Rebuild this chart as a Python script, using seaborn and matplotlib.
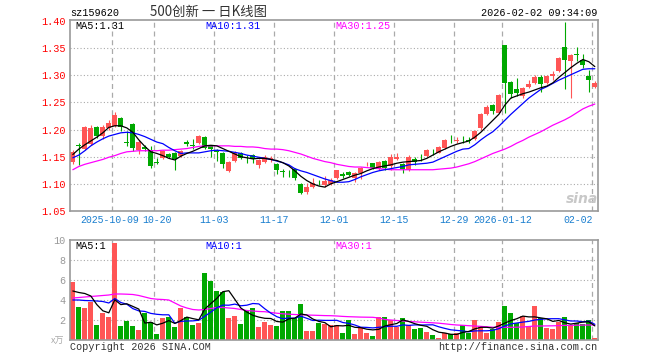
import numpy as np
import pandas as pd
import matplotlib
matplotlib.use("Agg")
import matplotlib.pyplot as plt
import seaborn as sns

# daily candles, 88 trading days ending 2026-02-02
opens = [1.141, 1.171, 1.164, 1.174, 1.205, 1.188, 1.202, 1.207, 1.222, 1.177,
         1.210, 1.162, 1.168, 1.162, 1.140, 1.147, 1.155, 1.157, 1.152, 1.178,
         1.171, 1.175, 1.187, 1.170, 1.163, 1.156, 1.124, 1.142, 1.156, 1.146,
         1.153, 1.135, 1.141, 1.146, 1.136, 1.123, 1.122, 1.128, 1.099, 1.085,
         1.095, 1.102, 1.098, 1.099, 1.111, 1.119, 1.121, 1.110, 1.120, 1.136,
         1.138, 1.127, 1.142, 1.133, 1.146, 1.137, 1.126, 1.146, 1.148, 1.151,
         1.161, 1.157, 1.166, 1.183, 1.179, 1.181, 1.180, 1.182, 1.202, 1.228,
         1.245, 1.231, 1.355, 1.288, 1.274, 1.262, 1.279, 1.286, 1.297, 1.286,
         1.298, 1.308, 1.352, 1.327, 1.339, 1.328, 1.299, 1.279]
highs = [1.163, 1.176, 1.207, 1.208, 1.207, 1.209, 1.217, 1.232, 1.224, 1.198,
         1.212, 1.180, 1.172, 1.170, 1.148, 1.162, 1.157, 1.159, 1.162, 1.181,
         1.183, 1.190, 1.188, 1.172, 1.165, 1.158, 1.143, 1.160, 1.158, 1.154,
         1.155, 1.146, 1.153, 1.152, 1.138, 1.127, 1.126, 1.130, 1.101, 1.102,
         1.110, 1.108, 1.114, 1.110, 1.126, 1.121, 1.123, 1.122, 1.131, 1.140,
         1.139, 1.143, 1.144, 1.155, 1.157, 1.139, 1.153, 1.149, 1.155, 1.165,
         1.164, 1.169, 1.183, 1.190, 1.187, 1.188, 1.186, 1.200, 1.230, 1.245,
         1.248, 1.265, 1.356, 1.290, 1.295, 1.278, 1.292, 1.301, 1.300, 1.301,
         1.308, 1.333, 1.398, 1.339, 1.352, 1.339, 1.309, 1.290]
lows = [1.137, 1.134, 1.162, 1.172, 1.185, 1.182, 1.200, 1.205, 1.198, 1.170,
        1.161, 1.155, 1.160, 1.130, 1.136, 1.145, 1.147, 1.126, 1.150, 1.170,
        1.164, 1.173, 1.164, 1.150, 1.142, 1.129, 1.122, 1.141, 1.146, 1.139,
        1.138, 1.130, 1.139, 1.141, 1.119, 1.112, 1.113, 1.107, 1.081, 1.081,
        1.093, 1.097, 1.094, 1.097, 1.109, 1.110, 1.114, 1.104, 1.109, 1.133,
        1.128, 1.125, 1.125, 1.126, 1.144, 1.120, 1.124, 1.134, 1.143, 1.150,
        1.154, 1.156, 1.164, 1.176, 1.176, 1.176, 1.175, 1.181, 1.200, 1.226,
        1.228, 1.230, 1.230, 1.258, 1.262, 1.259, 1.277, 1.284, 1.270, 1.284,
        1.292, 1.306, 1.274, 1.258, 1.326, 1.314, 1.269, 1.277]
closes = [1.158, 1.169, 1.204, 1.202, 1.188, 1.204, 1.213, 1.227, 1.204, 1.176,
          1.166, 1.178, 1.164, 1.132, 1.139, 1.160, 1.149, 1.145, 1.160, 1.173,
          1.170, 1.189, 1.166, 1.164, 1.158, 1.137, 1.141, 1.157, 1.148, 1.145,
          1.145, 1.144, 1.149, 1.148, 1.125, 1.122, 1.121, 1.110, 1.083, 1.095,
          1.102, 1.101, 1.106, 1.108, 1.125, 1.114, 1.116, 1.120, 1.129, 1.137,
          1.130, 1.141, 1.130, 1.149, 1.150, 1.127, 1.149, 1.141, 1.147, 1.163,
          1.160, 1.167, 1.181, 1.182, 1.180, 1.180, 1.179, 1.198, 1.228, 1.242,
          1.234, 1.263, 1.285, 1.266, 1.268, 1.276, 1.283, 1.297, 1.283, 1.299,
          1.302, 1.332, 1.328, 1.338, 1.338, 1.318, 1.292, 1.286]

ma5 = [1.154, 1.164, 1.172, 1.179, 1.186, 1.194, 1.204, 1.207, 1.207, 1.203,
       1.195, 1.181, 1.169, 1.159, 1.156, 1.152, 1.147, 1.144, 1.151, 1.156,
       1.160, 1.165, 1.170, 1.171, 1.170, 1.165, 1.160, 1.155, 1.150, 1.148,
       1.146, 1.147, 1.147, 1.145, 1.143, 1.139, 1.133, 1.124, 1.114, 1.106,
       1.100, 1.096, 1.094, 1.100, 1.104, 1.108, 1.112, 1.116, 1.119, 1.124,
       1.128, 1.131, 1.133, 1.135, 1.138, 1.140, 1.141, 1.142, 1.143, 1.147,
       1.153, 1.159, 1.164, 1.169, 1.173, 1.176, 1.179, 1.186, 1.195, 1.206,
       1.217, 1.228, 1.245, 1.258, 1.262, 1.266, 1.269, 1.273, 1.277, 1.280,
       1.286, 1.296, 1.305, 1.314, 1.322, 1.329, 1.325, 1.316]
ma10 = [1.148, 1.153, 1.161, 1.170, 1.177, 1.183, 1.188, 1.191, 1.194, 1.195,
        1.194, 1.191, 1.187, 1.182, 1.177, 1.174, 1.167, 1.161, 1.156, 1.157,
        1.157, 1.157, 1.159, 1.161, 1.162, 1.161, 1.160, 1.158, 1.156, 1.153,
        1.151, 1.149, 1.147, 1.145, 1.142, 1.139, 1.135, 1.128, 1.124, 1.121,
        1.117, 1.113, 1.109, 1.106, 1.103, 1.103, 1.104, 1.108, 1.113, 1.117,
        1.121, 1.124, 1.126, 1.128, 1.130, 1.132, 1.135, 1.136, 1.137, 1.138,
        1.140, 1.145, 1.150, 1.155, 1.160, 1.164, 1.165, 1.172, 1.181, 1.189,
        1.196, 1.206, 1.217, 1.228, 1.238, 1.248, 1.258, 1.266, 1.274, 1.279,
        1.285, 1.291, 1.296, 1.301, 1.306, 1.311, 1.312, 1.312]
ma30 = [1.126, 1.132, 1.136, 1.139, 1.142, 1.145, 1.149, 1.152, 1.156, 1.159,
        1.160, 1.161, 1.161, 1.161, 1.161, 1.162, 1.162, 1.163, 1.164, 1.165,
        1.167, 1.169, 1.170, 1.170, 1.170, 1.170, 1.170, 1.169, 1.169, 1.168,
        1.168, 1.167, 1.165, 1.164, 1.164, 1.163, 1.161, 1.158, 1.155, 1.151,
        1.147, 1.144, 1.141, 1.139, 1.136, 1.134, 1.132, 1.131, 1.131, 1.130,
        1.129, 1.128, 1.127, 1.126, 1.126, 1.126, 1.126, 1.126, 1.126, 1.126,
        1.126, 1.127, 1.128, 1.129, 1.131, 1.134, 1.137, 1.141, 1.146, 1.151,
        1.156, 1.160, 1.164, 1.169, 1.175, 1.180, 1.186, 1.191, 1.196, 1.202,
        1.208, 1.213, 1.218, 1.224, 1.231, 1.238, 1.243, 1.247]

# volume, in 万
volumes = [5.83, 3.33, 3.23, 3.83, 1.5, 2.73, 2.33, 9.73, 1.4, 1.93,
           1.4, 1.0, 2.73, 1.83, 0.6, 2.23, 2.33, 1.33, 3.23, 2.33,
           1.5, 1.73, 6.73, 5.93, 4.93, 4.83, 2.23, 2.43, 1.6, 2.93,
           3.17, 1.33, 1.83, 1.5, 1.4, 2.9, 2.9, 2.2, 3.6, 0.9,
           0.9, 1.7, 1.6, 1.5, 1.5, 0.73, 2.0, 0.6, 1.33, 0.73,
           0.4, 2.27, 2.27, 2.0, 1.33, 2.17, 1.5, 1.13, 1.23, 0.8,
           0.5, 0.23, 0.73, 0.6, 0.73, 1.5, 0.73, 2.0, 1.4, 0.73,
           1.07, 1.83, 3.4, 2.67, 1.67, 2.4, 1.4, 3.4, 2.17, 1.23,
           1.1, 1.83, 2.27, 1.5, 1.73, 1.6, 2.0, 0.23]
vol_ma5 = [4.9, 4.75, 4.65, 4.4, 3.54, 2.92, 2.72, 4.02, 3.54, 3.62,
           3.36, 3.09, 1.69, 1.78, 1.51, 1.68, 1.94, 1.66, 1.94, 2.29,
           2.14, 2.02, 3.1, 3.64, 4.16, 4.83, 4.93, 4.07, 3.2, 2.8,
           2.47, 2.29, 2.17, 2.15, 1.85, 1.79, 2.11, 2.18, 2.6, 2.5,
           2.1, 1.86, 1.74, 1.32, 1.44, 1.41, 1.47, 1.27, 1.23, 1.08,
           1.01, 1.07, 1.4, 1.53, 1.65, 2.01, 1.85, 1.63, 1.47, 1.37,
           1.03, 0.78, 0.70, 0.57, 0.56, 0.76, 0.86, 1.11, 1.27, 1.27,
           1.19, 1.41, 1.69, 1.94, 2.13, 2.39, 2.31, 2.31, 2.21, 2.12,
           1.86, 1.95, 1.72, 1.59, 1.69, 1.79, 1.82, 1.41]
vol_ma10 = [4.0, 4.0, 3.95, 3.93, 3.9, 3.85, 3.7, 4.15, 3.75, 3.58,
            3.14, 2.91, 2.86, 2.66, 2.57, 2.52, 2.52, 1.68, 1.86, 1.90,
            1.91, 1.98, 2.38, 2.79, 3.23, 3.49, 3.48, 3.59, 3.42, 3.48,
            3.65, 3.61, 3.12, 2.68, 2.33, 2.13, 2.2, 2.18, 2.38, 2.17,
            1.95, 1.98, 1.96, 1.96, 1.97, 1.75, 1.66, 1.50, 1.28, 1.26,
            1.21, 1.27, 1.33, 1.38, 1.37, 1.51, 1.46, 1.51, 1.50, 1.51,
            1.52, 1.32, 1.16, 1.02, 0.96, 0.90, 0.82, 0.91, 0.92, 0.92,
            0.97, 1.13, 1.40, 1.61, 1.70, 1.79, 1.86, 2.00, 2.07, 2.12,
            2.13, 2.13, 2.01, 1.90, 1.90, 1.82, 1.88, 1.57]
vol_ma30 = [4.2, 4.25, 4.3, 4.35, 4.4, 4.45, 4.5, 4.6, 4.6, 4.58,
            4.55, 4.45, 4.3, 4.15, 4.08, 4.05, 4.0, 3.7, 3.4, 3.2,
            3.05, 3.0, 3.05, 3.15, 3.25, 3.25, 3.2, 3.15, 3.05, 2.95,
            2.9, 2.85, 2.83, 2.75, 2.68, 2.62, 2.58, 2.55, 2.52, 2.5,
            2.48, 2.46, 2.44, 2.43, 2.4, 2.36, 2.33, 2.31, 2.29, 2.28,
            2.27, 2.2, 2.05, 2.0, 1.95, 1.9, 1.85, 1.82, 1.78, 1.75,
            1.72, 1.68, 1.62, 1.55, 1.5, 1.47, 1.43, 1.4, 1.36, 1.32,
            1.28, 1.27, 1.27, 1.27, 1.28, 1.3, 1.35, 1.4, 1.4, 1.41,
            1.42, 1.44, 1.46, 1.47, 1.48, 1.49, 1.5, 1.5]

tick_idx = [7, 14, 24, 34, 44, 54, 64, 72, 87]
tick_labels = ["2025-10-09", "10-20", "11-03", "11-17", "12-01",
               "12-15", "12-29", "2026-01-12", "02-02"]

RED = "#ff5555"
GREEN = "#00a800"
GRID = "#aaaaaa"
BORDER = "#999999"

sns.set_style("white")
plt.rcParams["font.family"] = ["Liberation Mono", "Noto Sans CJK SC", "DejaVu Sans"]

df = pd.DataFrame({"open": opens, "high": highs, "low": lows,
                   "close": closes, "vol": volumes})
df["x"] = np.arange(len(df))
colors = np.where(df["close"] >= df["open"], RED, GREEN)

fig = plt.figure(figsize=(6.6, 3.6), dpi=100)
ax = fig.add_axes([70 / 660, 1 - 211 / 360, 528 / 660, 191 / 360])
axv = fig.add_axes([70 / 660, 1 - 340 / 360, 528 / 660, 100 / 360])

# price panel
ax.vlines(df["x"], df["low"], df["high"], colors=colors, lw=0.8, zorder=2)
body = (df["close"] - df["open"]).abs().clip(lower=0.0014)
ax.bar(df["x"], body, bottom=df[["open", "close"]].min(axis=1),
       width=0.8, color=colors, linewidth=0, zorder=2)
for vals, c in [(ma30, "#ff00ff"), (ma10, "#0000ff"), (ma5, "black")]:
    sns.lineplot(x=df["x"], y=vals, ax=ax, color=c, lw=0.9, legend=False, zorder=3)

# volume panel
axv.bar(df["x"], df["vol"], width=0.8, color=colors, linewidth=0, zorder=2)
for vals, c in [(vol_ma30, "#ff00ff"), (vol_ma10, "#0000ff"), (vol_ma5, "black")]:
    sns.lineplot(x=df["x"], y=vals, ax=axv, color=c, lw=0.9, legend=False, zorder=3)

vlines = np.array(tick_idx) - 0.42
for a in (ax, axv):
    a.set_xlim(-0.47, 87.53)
    for p in vlines:
        a.axvline(p, color=GRID, lw=0.9, ls=(0, (4, 3)), zorder=0)
    for s in a.spines.values():
        s.set_color(BORDER)
        s.set_linewidth(1.2)
    a.set_xlabel("")
    a.set_ylabel("")

ax.set_ylim(1.0505, 1.4018)
for y in np.arange(1.10, 1.36, 0.05):
    ax.axhline(y, color=GRID, lw=0.8, ls=(0, (1, 2)), zorder=0)
ax.set_yticks(np.arange(1.05, 1.401, 0.05))
ax.set_yticklabels([f"{v:.2f}" for v in np.arange(1.05, 1.401, 0.05)])
ax.tick_params(axis="y", length=0, pad=3, labelcolor="#ff0000", labelsize=7.3)

# date labels under the dashed lines
label_x = list(vlines)
label_x[0] -= 0.5
label_x[1] += 0.4
ax.set_xticks([])
for i, (p, lab) in enumerate(zip(label_x, tick_labels)):
    ha = "right" if i == len(tick_labels) - 1 else "center"
    if ha == "right":
        p = vlines[-1] + 0.1
    ax.text(p, -9 / 191, lab, transform=ax.get_xaxis_transform(), ha=ha,
            va="center", color="#1a7ecf", fontsize=7.1)

axv.set_ylim(0, 10)
for y in [2, 4, 6, 8]:
    axv.axhline(y, color=GRID, lw=0.8, ls=(0, (1, 2)), zorder=0)
axv.set_yticks([2, 4, 6, 8, 10])
axv.tick_params(axis="y", length=0, pad=3, labelcolor="#999999", labelsize=7.3)
axv.set_xticks([])


def ftext(x, y, s, **kw):
    fig.text(x / 660, 1 - y / 360, s, va="center", **kw)


ftext(70, 13, "sz159620", color="black", fontsize=7.3)
ftext(209, 12, "500创新 一 日K线图", ha="center", color="#333333", fontsize=9.6,
      family=["Noto Sans CJK SC", "DejaVu Sans"])
ftext(597, 13, "2026-02-02 09:34:09", ha="right", color="black", fontsize=7.3)
ftext(75, 26, "MA5:1.31", color="black", fontsize=7.3)
ftext(205, 26, "MA10:1.31", color="#0000ff", fontsize=7.3)
ftext(335, 26, "MA30:1.25", color="#ff00ff", fontsize=7.3)
ftext(75, 246, "MA5:1", color="black", fontsize=7.3)
ftext(205, 246, "MA10:1", color="#0000ff", fontsize=7.3)
ftext(335, 246, "MA30:1", color="#ff00ff", fontsize=7.3)
ftext(64, 341, "x万", ha="right", color="#aaaaaa", fontsize=6.5,
      family=["Noto Sans CJK SC", "DejaVu Sans"])
ftext(70, 347, "Copyright 2026 SINA.COM", color="#333333", fontsize=7.3)
ftext(597, 347, "http://finance.sina.com.cn", ha="right", color="#333333", fontsize=7.3)
ftext(582, 199, "sina", ha="center", color="#c8c8c8", fontsize=10,
      fontstyle="italic", fontweight="bold", family="DejaVu Sans")

fig.savefig("out.png", dpi=100, facecolor="white")
